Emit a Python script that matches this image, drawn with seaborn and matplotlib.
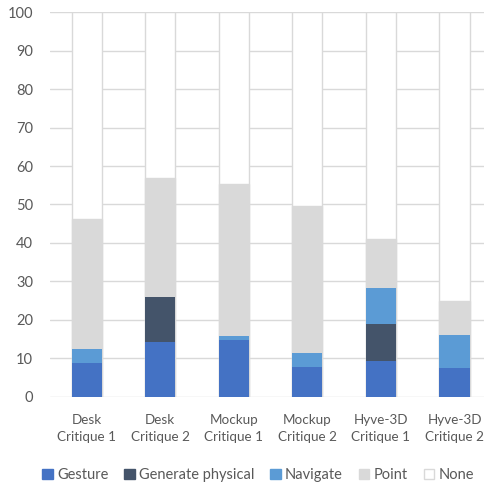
"""Stacked interaction-type shares per critique session (percent)."""

import matplotlib
matplotlib.use("Agg")
import matplotlib.pyplot as plt
from matplotlib.patches import Patch
import numpy as np
import seaborn as sns

sessions = ["Desk\nCritique 1", "Desk\nCritique 2", "Mockup\nCritique 1",
            "Mockup\nCritique 2", "Hyve-3D\nCritique 1", "Hyve-3D\nCritique 2"]
series_names = ["Gesture", "Generate physical", "Navigate", "Point", "None"]

gesture = [8.8, 14.3, 14.9, 7.8, 9.2, 7.4]
generate_physical = [0.0, 11.6, 0.0, 0.0, 9.8, 0.0]
navigate = [3.6, 0.0, 0.8, 3.7, 9.2, 8.7]
point = [33.9, 30.9, 39.7, 38.1, 12.9, 8.7]
none = [53.7, 43.2, 44.6, 50.4, 58.9, 75.2]

colors = ["#4472C4", "#44546A", "#5B9BD5", "#D9D9D9", "#FFFFFF"]
edge = "#D9D9D9"
text_col = "#595959"

sns.set_style("white")
plt.rcParams["font.family"] = ["Lato", "DejaVu Sans"]

fig = plt.figure(figsize=(4.84, 4.84), dpi=100)
ax = fig.add_axes([0.103, 0.18, 0.897, 0.795])

# stacked bars: draw running totals from the top segment down so each covers the last
stack = np.array([gesture, generate_physical, navigate, point, none])
totals = np.cumsum(stack, axis=0)
for i in range(len(series_names) - 1, -1, -1):
    ec = edge if i >= 3 else "none"
    sns.barplot(x=sessions, y=totals[i], color=colors[i], saturation=1,
                width=0.41, edgecolor=ec, linewidth=1, ax=ax, zorder=2)

ax.set_ylim(0, 100)
ax.set_xlim(-0.5, 5.4)
ax.set_yticks(range(0, 101, 10))
ax.yaxis.grid(True, color=edge, linewidth=1)
ax.set_axisbelow(True)
for s in ax.spines.values():
    s.set_visible(False)
ax.tick_params(axis="both", length=0, colors=text_col)
ax.tick_params(axis="y", pad=12, labelsize=10.5)
ax.tick_params(axis="x", pad=12, labelsize=9.7)
for lab in ax.get_xticklabels():
    lab.set_linespacing(1.55)
ax.set_xlabel("")
ax.set_ylabel("")

handles = [Patch(facecolor=c, edgecolor=(edge if c == "#FFFFFF" else c), linewidth=1)
           for c in colors]
leg = fig.legend(handles, series_names, loc="center", bbox_to_anchor=(0.533, 0.019),
                 ncol=5, frameon=False, fontsize=10.5, handlelength=0.7,
                 handleheight=0.7, handletextpad=0.3, columnspacing=1.1)
for t in leg.get_texts():
    t.set_color(text_col)

fig.savefig("out.png", dpi=100)
